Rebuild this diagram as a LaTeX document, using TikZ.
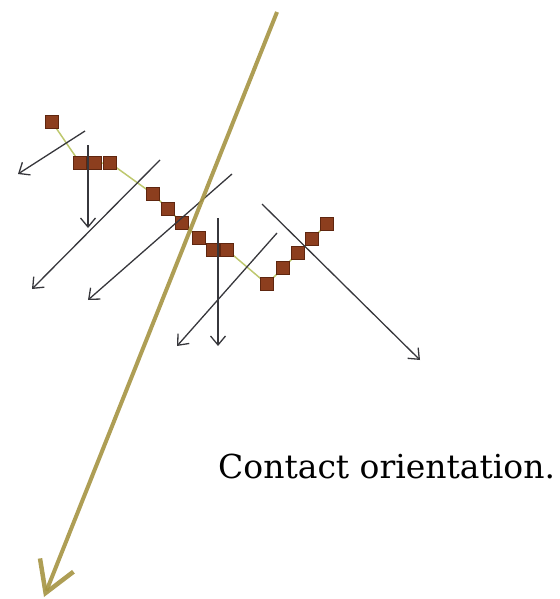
\documentclass[tikz,border=0pt]{standalone}
\usepackage{fontspec}
\usetikzlibrary{arrows.meta}
\newfontfamily\labelfont{DejaVu Serif}
\definecolor{sqfill}{RGB}{140,62,30}
\definecolor{sqdraw}{RGB}{95,38,15}
\definecolor{gold}{RGB}{165,148,66}
\definecolor{chain}{RGB}{190,200,110}
\definecolor{arr}{RGB}{55,55,60}
\tikzset{
  sq/.style={draw=sqdraw, fill=sqfill, line width=1pt, minimum size=13.5pt, inner sep=0pt},
  garrow/.style={draw=arr, line width=1.3pt, -{Straight Barb[length=9pt,width=15pt,line width=1.3pt]}},
  axis/.style={draw=gold, line width=4pt, -{Straight Barb[length=30pt,width=36pt,line width=4.5pt]}},
  label/.style={font=\labelfont\fontsize{33}{37}\selectfont, anchor=base west, inner sep=0pt}
}
\begin{document}
\begin{tikzpicture}[x=1pt,y=-1pt]
\useasboundingbox (0,0) rectangle (559,599);
% chain of contacts
\foreach \n/\x/\y in {1/52/122,2/80/163,3/95/163,4/110/163,5/153/194,6/168/209,7/182/223,8/199/238,9/213/250,10/227/250,11/267/284,12/283/268,13/298/253,14/312/239,15/327/224}{
  \coordinate (c\n) at (\x,\y);
}
\draw[chain, line width=1.5pt] (c1) -- (c2) -- (c3) -- (c4) -- (c5) -- (c6) -- (c7) -- (c8) -- (c9) -- (c10) -- (c11) -- (c12) -- (c13) -- (c14) -- (c15);
\foreach \n in {1,...,15}{ \node[sq] (s\n) at (c\n) {}; }
% force arrows
\coordinate (a1s) at (85,131);  \coordinate (a1e) at (18,174);
\coordinate (a2s) at (88,145);  \coordinate (a2e) at (88,228);
\coordinate (a3s) at (160,160); \coordinate (a3e) at (32,289);
\coordinate (a4s) at (232,174); \coordinate (a4e) at (88,300);
\coordinate (a5s) at (218,218); \coordinate (a5e) at (218,346);
\coordinate (a6s) at (277,233); \coordinate (a6e) at (177,346);
\coordinate (a7s) at (262,204); \coordinate (a7e) at (420,360);
\foreach \i in {1,...,7}{ \draw[garrow] (a\i s) -- (a\i e); }
% contact orientation axis
\coordinate (ts) at (277,12);
\coordinate (te) at (44,597);
\draw[axis, opacity=0.9] (ts) -- (te);
\node[label] (lab) at (218,478) {Contact orientation.};
\end{tikzpicture}
\end{document}
